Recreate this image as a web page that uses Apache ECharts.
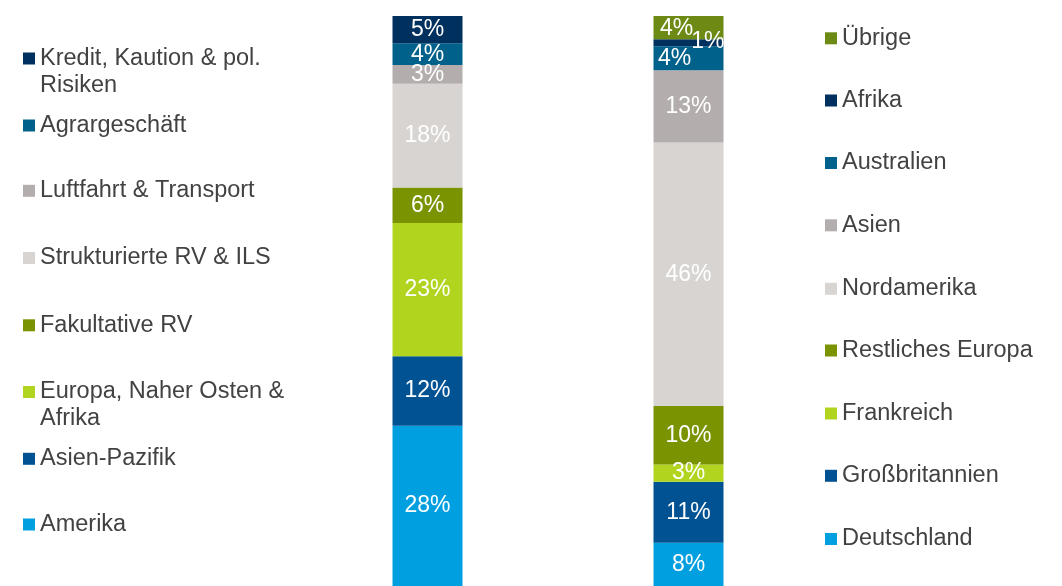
<!DOCTYPE html>
<html>
<head>
<meta charset="utf-8">
<script src="https://cdn.jsdelivr.net/npm/echarts@6/dist/echarts.min.js"></script>
<style>
  html, body { margin: 0; padding: 0; background: #fff; overflow: hidden; }
  #chart { width: 1062px; height: 586px; }
</style>
</head>
<body>
<div id="chart"></div>
<script>
// Categories (two stacked columns)
const categories = ['Geschäftsfelder', 'Regionen'];

// Left column, listed top to bottom (values in %)
const leftNames = [
  'Kredit, Kaution & pol. Risiken',
  'Agrargeschäft',
  'Luftfahrt & Transport',
  'Strukturierte RV & ILS',
  'Fakultative RV',
  'Europa, Naher Osten & Afrika',
  'Asien-Pazifik',
  'Amerika'
];
const leftValues = [4.8, 3.8, 3.3, 18.2, 6.2, 23.4, 12.2, 28.1];

// Right column, listed top to bottom (values in %)
const rightNames = [
  'Übrige',
  'Afrika',
  'Australien',
  'Asien',
  'Nordamerika',
  'Restliches Europa',
  'Frankreich',
  'Großbritannien',
  'Deutschland'
];
const rightValues = [4.1, 1.2, 4.2, 12.7, 46.2, 10.3, 3.0, 10.7, 7.6];

// Colours
const colors = {
  'Kredit, Kaution & pol. Risiken': '#00305e',
  'Agrargeschäft': '#00628a',
  'Luftfahrt & Transport': '#b3aead',
  'Strukturierte RV & ILS': '#d8d4d1',
  'Fakultative RV': '#7a9300',
  'Europa, Naher Osten & Afrika': '#b1d51e',
  'Asien-Pazifik': '#005293',
  'Amerika': '#009fe0',
  'Übrige': '#6c8a14',
  'Afrika': '#00305e',
  'Australien': '#00628a',
  'Asien': '#b3aead',
  'Nordamerika': '#d8d4d1',
  'Restliches Europa': '#7a9300',
  'Frankreich': '#b1d51e',
  'Großbritannien': '#005293',
  'Deutschland': '#009fe0'
};

// Label tweaks for the thin slices at the top of the right column
const labelTweaks = {
  'Übrige': { offset: [-12, 1] },
  'Australien': { offset: [-14, 0] },
  'Afrika': { position: 'insideRight', distance: 0, offset: [1, -1] }
};

// Legend line breaks (a blank first line keeps the marker on the first text line)
const legendText = {
  'Kredit, Kaution & pol. Risiken': ' \nKredit, Kaution & pol.\nRisiken',
  'Europa, Naher Osten & Afrika': ' \nEuropa, Naher Osten &\nAfrika'
};

const FONT = '"Liberation Sans", Arial, sans-serif';

function makeSeries(names, values, idx, stack) {
  const out = [];
  for (let i = names.length - 1; i >= 0; i--) {
    const name = names[i];
    const data = categories.map((_, c) => (c === idx ? values[i] : '-'));
    out.push({
      name,
      type: 'bar',
      stack,
      barWidth: 70,
      barGap: '-100%',
      data,
      itemStyle: { color: colors[name] },
      label: Object.assign({
        show: true,
        position: 'inside',
        color: '#ffffff',
        fontFamily: FONT,
        fontSize: 23,
        formatter: (p) => Math.round(p.value) + '%'
      }, labelTweaks[name] || {}),
      emphasis: { disabled: true }
    });
  }
  return out;
}

// Icon centres of the legend entries (first line)
const leftLegendY = [58.5, 125.5, 190.8, 258, 325.3, 392, 458.8, 524.5];
const rightLegendY = [38.3, 100.5, 163, 225.3, 288.8, 350.5, 413.5, 475.8, 539];

function makeLegend(name, left, cy) {
  const twoLines = !!legendText[name];
  const top = twoLines ? cy - 40.5 : cy - 13.5;
  return {
    data: [name],
    left,
    top,
    padding: 0,
    selectedMode: false,
    itemWidth: 12,
    itemHeight: 12,
    itemGap: 0,
    icon: 'rect',
    formatter: (n) => legendText[n] || n,
    textStyle: {
      color: '#424242',
      fontFamily: FONT,
      fontSize: 23.5,
      lineHeight: 27
    }
  };
}

const legends = [];
leftNames.forEach((n, i) => legends.push(makeLegend(n, 23, leftLegendY[i])));
rightNames.forEach((n, i) => legends.push(makeLegend(n, 825, rightLegendY[i])));

const chart = echarts.init(document.getElementById('chart'));
chart.setOption({
  animation: false,
  grid: { left: 297, right: 243, top: 16, bottom: -4 },
  xAxis: {
    type: 'category',
    data: categories,
    show: false
  },
  yAxis: {
    type: 'value',
    min: 0,
    max: 100,
    show: false
  },
  legend: legends,
  series: makeSeries(leftNames, leftValues, 0, 'left')
    .concat(makeSeries(rightNames, rightValues, 1, 'right'))
});
</script>
</body>
</html>
